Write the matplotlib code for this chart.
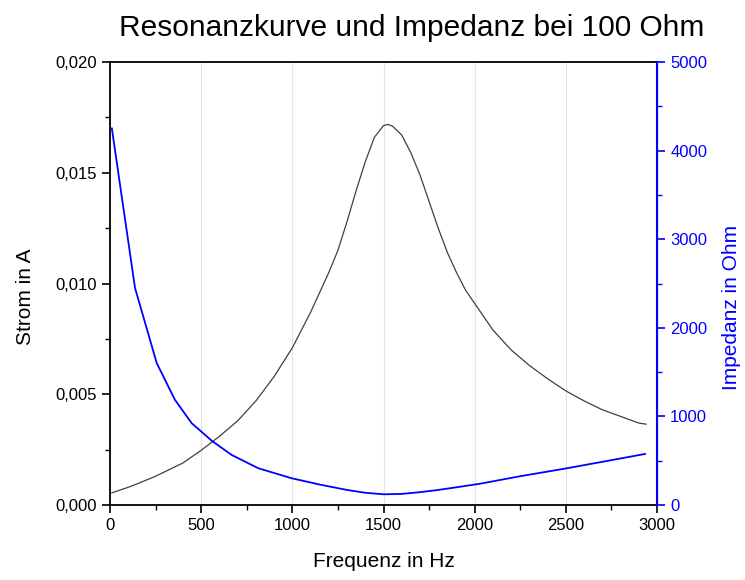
import matplotlib.pyplot as plt
from matplotlib.ticker import FuncFormatter, MultipleLocator

plt.rcParams['font.family'] = ['Liberation Sans', 'DejaVu Sans']

# Strom
freq_i = [10, 100, 150, 250, 300, 400, 500, 600, 700, 800, 900, 1000, 1050, 1100,
          1150, 1200, 1250, 1300, 1350, 1400, 1450, 1500, 1525, 1550, 1600, 1650,
          1700, 1750, 1800, 1850, 1900, 1950, 2000, 2100, 2200, 2300, 2400, 2500,
          2600, 2700, 2800, 2900, 2940]
strom = [0.00055, 0.0008, 0.00096, 0.0013, 0.0015, 0.0019, 0.00247, 0.0031, 0.0038,
         0.0047, 0.0058, 0.0071, 0.0079, 0.0087, 0.0096, 0.0105, 0.0115, 0.0128,
         0.0142, 0.0155, 0.0166, 0.01713, 0.01718, 0.0171, 0.0167, 0.0159, 0.0149,
         0.0137, 0.0125, 0.0114, 0.0105, 0.0097, 0.0091, 0.0079, 0.0070, 0.0063,
         0.0057, 0.00515, 0.0047, 0.0043, 0.0040, 0.0037, 0.00365]

# Impedanz
freq_z = [10, 137, 256, 356, 448, 558, 667, 813, 996, 1161, 1300, 1400, 1500, 1600,
          1700, 1800, 1900, 2029, 2250, 2504, 2720, 2934]
impedanz = [4250, 2450, 1602, 1187, 923, 725, 565, 415, 302, 226, 170, 138, 121,
            125, 145, 170, 200, 240, 325, 414, 495, 576]

fig = plt.figure(figsize=(7.45, 5.8), dpi=100)
ax = fig.add_axes([0.1477, 0.1293, 0.7342, 0.7638])
ax2 = ax.twinx()

ax.plot(freq_i, strom, color="#404040", linewidth=0.9, zorder=3)
ax2.plot(freq_z, impedanz, color="#0000ff", linewidth=1.3)

ax.set_xlim(0, 3000)
ax.set_ylim(0, 0.020)
ax2.set_ylim(0, 5000)

ax.xaxis.set_major_locator(MultipleLocator(500))
ax.xaxis.set_minor_locator(MultipleLocator(250))
ax.yaxis.set_major_locator(MultipleLocator(0.005))
ax.yaxis.set_minor_locator(MultipleLocator(0.0025))
ax.yaxis.set_major_formatter(FuncFormatter(lambda v, p: f"{v:.3f}".replace(".", ",")))
ax2.yaxis.set_major_locator(MultipleLocator(1000))
ax2.yaxis.set_minor_locator(MultipleLocator(500))

ax.grid(axis="x", color="#e3e3e3", linewidth=0.8)
ax.set_axisbelow(True)

ax.tick_params(which="major", direction="out", length=6, width=1.2, labelsize=12)
ax.tick_params(which="minor", direction="out", length=3.5, width=1.0)
ax2.tick_params(which="major", direction="out", length=6, width=1.2, labelsize=12,
                colors="#0000ff")
ax2.tick_params(which="minor", direction="out", length=3.5, width=1.0, colors="#0000ff")

for s in ["left", "bottom", "top"]:
    ax.spines[s].set_linewidth(1.3)
ax2.spines["right"].set_color("#0000ff")
ax2.spines["right"].set_linewidth(1.5)
ax2.spines["left"].set_visible(False)
ax2.spines["top"].set_visible(False)
ax2.spines["bottom"].set_visible(False)

ax.set_xlabel("Frequenz in Hz", fontsize=15)
ax.set_ylabel("Strom in A", fontsize=15)
ax2.set_ylabel("Impedanz in Ohm", fontsize=15, color="#0000ff")
ax.xaxis.set_label_coords(0.5, -0.105)
ax.yaxis.set_label_coords(-0.137, 0.47)
ax2.yaxis.set_label_coords(1.118, 0.447)

fig.text(0.553, 0.952, "Resonanzkurve und Impedanz bei 100 Ohm", fontsize=21.5,
         ha="center", va="center")

plt.savefig("out.png", dpi=100)
plt.close()
